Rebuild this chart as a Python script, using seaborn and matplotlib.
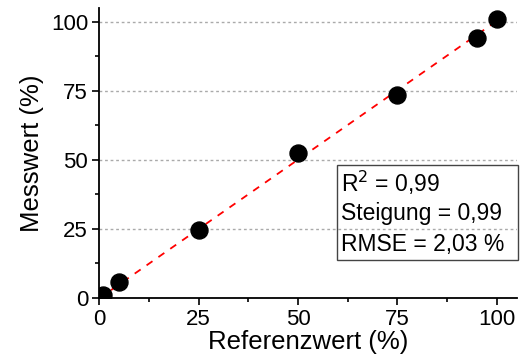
import numpy as np
import seaborn as sns
import matplotlib.pyplot as plt
from matplotlib.patches import Rectangle
from matplotlib.ticker import MultipleLocator

sns.set_style("ticks")
plt.rcParams['font.family'] = ['Liberation Sans', 'DejaVu Sans']
plt.rcParams['text.color'] = "black"
plt.rcParams['axes.labelcolor'] = "black"

ref = [1, 5, 25, 50, 75, 95, 100]
meas = [1.0, 5.8, 24.5, 52.5, 73.5, 94.0, 101.0]
fit_x = [0, 100]
fit_y = [-0.2, 100.3]
stats_lines = ["R$^2$ = 0,99", "Steigung = 0,99", "RMSE = 2,03 %"]

fig = plt.figure(figsize=(5.22, 3.58), dpi=100)
ax = fig.add_axes([0.19, 0.168, 0.80, 0.81])

ax.yaxis.grid(True, linestyle=(0, (2, 2)), color="#aaaaaa", linewidth=1)
ax.set_axisbelow(True)
sns.lineplot(x=fit_x, y=fit_y, ax=ax, color="red", linestyle=(0, (4, 4)), linewidth=1.3, zorder=2)
sns.scatterplot(x=ref, y=meas, ax=ax, color="black", s=150, edgecolor="black", zorder=3)

ax.set_xlim(0, 105)
ax.set_ylim(0, 105)
ax.xaxis.set_major_locator(MultipleLocator(25))
ax.yaxis.set_major_locator(MultipleLocator(25))
ax.xaxis.set_minor_locator(MultipleLocator(12.5))
ax.yaxis.set_minor_locator(MultipleLocator(12.5))
ax.tick_params(which="major", length=5, width=1.2, labelsize=16, colors="black", pad=3)
ax.tick_params(which="minor", length=3, width=1.2, colors="black")
for s in ["top", "right"]:
    ax.spines[s].set_visible(False)
for s in ["left", "bottom"]:
    ax.spines[s].set_linewidth(1.3)
    ax.spines[s].set_color("black")

ax.set_xlabel("Referenzwert (%)", fontsize=18.5, labelpad=0)
ax.set_ylabel("Messwert (%)", fontsize=18.5, labelpad=5)

# stats box (lower right)
ax.add_patch(Rectangle((59.8, 13.7), 45.5, 34.4, facecolor="none", edgecolor="#444444",
                       linewidth=1, clip_on=False, zorder=4))
for i, line in enumerate(stats_lines):
    ax.text(60.8, 41.6 - i * 11.2, line, fontsize=16.5, va="center", ha="left", zorder=5)

fig.savefig("out.png", dpi=100)
